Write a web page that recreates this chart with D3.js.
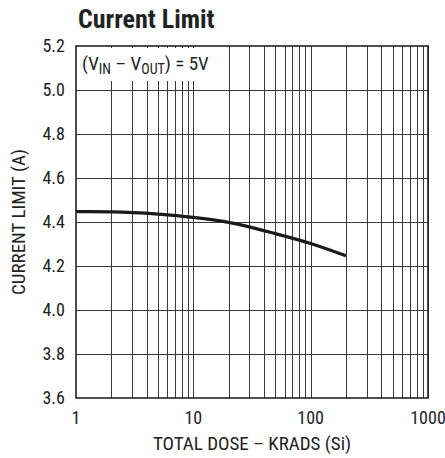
<!DOCTYPE html>
<html>
<head>
<meta charset="utf-8">
<script src="https://d3js.org/d3.v7.min.js"></script>
<style>
  body { margin: 0; background: #fff; }
  svg { display: block; }
  .lbl { font-family: 'Liberation Sans Narrow', 'Roboto Condensed', 'Liberation Sans', sans-serif; fill: #222; }
</style>
</head>
<body>
<div id="chart"></div>
<script>
  // data
  var dose = [1, 2, 5, 10, 20, 30, 50, 100, 200];
  var current = [4.447, 4.446, 4.436, 4.421, 4.398, 4.378, 4.347, 4.302, 4.246];
  var yTicks = [3.6, 3.8, 4.0, 4.2, 4.4, 4.6, 4.8, 5.0, 5.2];
  var xTicks = [1, 10, 100, 1000];

  var W = 445, H = 458;
  var margin = {top: 46, right: 17, bottom: 60, left: 76};
  var width = 428 - margin.left, height = 398 - margin.top;

  var svg = d3.select("#chart").append("svg")
    .attr("width", W).attr("height", H);

  var g = svg.append("g")
    .attr("transform", "translate(" + margin.left + "," + margin.top + ")");

  var x = d3.scaleLog().domain([1, 1000]).range([0, width]);
  var y = d3.scaleLinear().domain([3.6, 5.2]).range([height, 0]);

  // vertical grid lines, 2..10 per decade
  var vlines = [];
  for (var d = 1; d < 1000; d *= 10)
    for (var k = 2; k <= 10; k++) vlines.push(d * k);

  g.append("g").selectAll("line").data(vlines).enter().append("line")
    .attr("x1", function(v) { return Math.round(x(v)) + 0.5; })
    .attr("x2", function(v) { return Math.round(x(v)) + 0.5; })
    .attr("y1", 0).attr("y2", height)
    .attr("stroke", "#3a3a3a").attr("stroke-width", 1);

  g.append("g").selectAll("line").data(yTicks.slice(1, -1)).enter().append("line")
    .attr("x1", 0).attr("x2", width)
    .attr("y1", function(v) { return Math.round(y(v)) + 0.5; })
    .attr("y2", function(v) { return Math.round(y(v)) + 0.5; })
    .attr("stroke", "#3a3a3a").attr("stroke-width", 1);

  // annotation box covering the grid
  g.append("rect")
    .attr("x", 1).attr("y", 2).attr("width", 145).attr("height", 33)
    .attr("fill", "#fff");

  var note = g.append("text").attr("class", "lbl")
    .attr("x", 6).attr("y", 24).style("font-size", "19px");
  note.append("tspan").text("(V");
  note.append("tspan").attr("dy", 4).style("font-size", "14px").text("IN");
  note.append("tspan").attr("dy", -4).text(" \u2013 V");
  note.append("tspan").attr("dy", 4).style("font-size", "14px").text("OUT");
  note.append("tspan").attr("dy", -4).text(") = 5V");

  // frame
  g.append("rect")
    .attr("x", 0).attr("y", 0).attr("width", width).attr("height", height)
    .attr("fill", "none").attr("stroke", "#222").attr("stroke-width", 1.6);

  // curve
  var line = d3.line()
    .x(function(d, i) { return x(dose[i]); })
    .y(function(d) { return y(d); })
    .curve(d3.curveMonotoneX);

  g.append("path")
    .datum(current)
    .attr("d", line)
    .attr("fill", "none")
    .attr("stroke", "#1a1a1a")
    .attr("stroke-width", 3.2);

  // tick labels
  g.append("g").selectAll("text").data(yTicks).enter().append("text")
    .attr("class", "lbl")
    .attr("x", -11).attr("y", function(v) { return y(v); })
    .attr("dy", "0.35em")
    .attr("text-anchor", "end")
    .style("font-size", "18px")
    .text(function(v) { return v.toFixed(1); });

  g.append("g").selectAll("text").data(xTicks).enter().append("text")
    .attr("class", "lbl")
    .attr("x", function(v) { return x(v); })
    .attr("y", height + 26)
    .attr("text-anchor", "middle")
    .style("font-size", "18px")
    .text(function(v) { return v; });

  // axis titles
  svg.append("text").attr("class", "lbl")
    .attr("x", margin.left + width / 2).attr("y", 450)
    .attr("text-anchor", "middle")
    .style("font-size", "19px")
    .text("TOTAL DOSE \u2013 KRADS (Si)");

  svg.append("text").attr("class", "lbl")
    .attr("transform", "translate(25," + (margin.top + height / 2) + ") rotate(-90)")
    .attr("text-anchor", "middle")
    .style("font-size", "19px")
    .text("CURRENT LIMIT (A)");

  // title
  svg.append("text").attr("class", "lbl")
    .attr("x", 78).attr("y", 28)
    .style("font-size", "26px").style("font-weight", "bold")
    .text("Current Limit");
</script>
</body>
</html>
